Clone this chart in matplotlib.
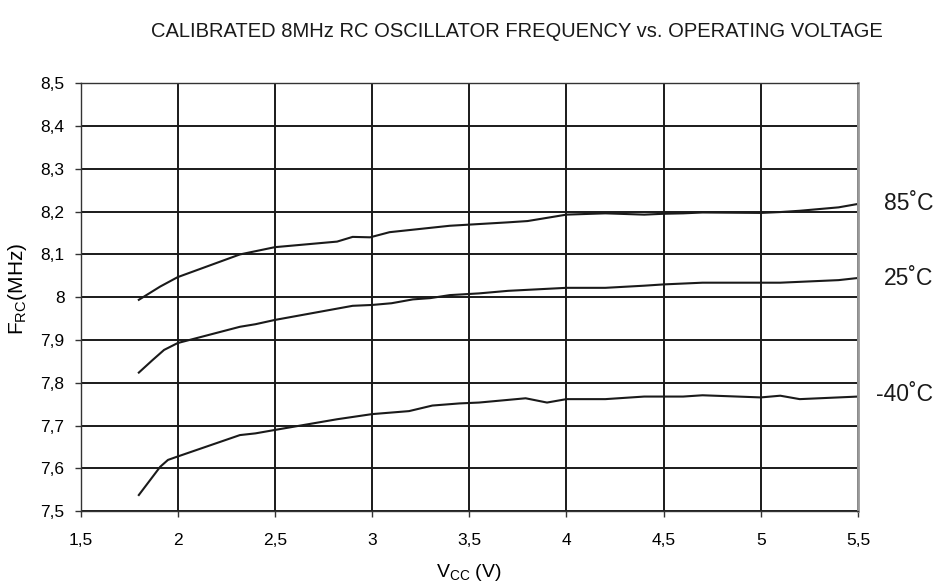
import matplotlib
matplotlib.use("Agg")
import matplotlib.pyplot as plt
from matplotlib.transforms import blended_transform_factory

plt.rcParams['font.family'] = ['Liberation Sans', 'DejaVu Sans']

v85 = [1.80, 1.91, 2.00, 2.32, 2.50, 2.82, 2.90, 2.99, 3.09, 3.40, 3.55, 3.70, 3.80, 3.88, 4.00, 4.20, 4.40, 4.50, 4.60, 4.70, 5.00, 5.10, 5.20, 5.40, 5.50]
f85 = [7.994, 8.025, 8.047, 8.100, 8.117, 8.130, 8.141, 8.140, 8.152, 8.167, 8.171, 8.175, 8.178, 8.184, 8.193, 8.196, 8.193, 8.195, 8.196, 8.198, 8.197, 8.199, 8.202, 8.210, 8.218]

v25 = [1.80, 1.87, 1.93, 2.00, 2.32, 2.40, 2.50, 2.90, 3.00, 3.10, 3.21, 3.30, 3.40, 3.55, 3.70, 4.00, 4.20, 4.40, 4.50, 4.70, 5.00, 5.10, 5.20, 5.40, 5.50]
f25 = [7.824, 7.853, 7.877, 7.893, 7.931, 7.937, 7.947, 7.980, 7.982, 7.986, 7.995, 7.998, 8.005, 8.009, 8.015, 8.022, 8.022, 8.027, 8.030, 8.034, 8.034, 8.034, 8.036, 8.040, 8.045]

vm40 = [1.80, 1.91, 1.95, 2.00, 2.32, 2.40, 2.50, 2.82, 3.00, 3.19, 3.31, 3.45, 3.55, 3.79, 3.90, 4.00, 4.20, 4.40, 4.50, 4.60, 4.70, 5.00, 5.10, 5.20, 5.40, 5.50]
fm40 = [7.538, 7.604, 7.620, 7.628, 7.678, 7.682, 7.690, 7.715, 7.727, 7.734, 7.747, 7.752, 7.754, 7.764, 7.754, 7.762, 7.762, 7.768, 7.768, 7.768, 7.771, 7.766, 7.770, 7.762, 7.766, 7.768]

series_labels = ["85˚C", "25˚C", "-40˚C"]
label_values = [8.22, 8.044, 7.772]
xticks = [1.5, 2, 2.5, 3, 3.5, 4, 4.5, 5, 5.5]
xticklabels = ["1,5", "2", "2,5", "3", "3,5", "4", "4,5", "5", "5,5"]
yticks = [7.5, 7.6, 7.7, 7.8, 7.9, 8.0, 8.1, 8.2, 8.3, 8.4, 8.5]
yticklabels = ["7,5", "7,6", "7,7", "7,8", "7,9", "8", "8,1", "8,2", "8,3", "8,4", "8,5"]

fig = plt.figure(figsize=(9.46, 5.86), dpi=100)
ax = fig.add_axes([0.0851, 0.1275, 0.8219, 0.7305])

ax.set_xlim(1.5, 5.5)
ax.set_ylim(7.5, 8.5)
ax.set_xticks(xticks)
ax.set_xticklabels(xticklabels, fontsize=12.5)
ax.set_yticks(yticks)
ax.set_yticklabels(yticklabels, fontsize=12.5)
ax.grid(True, color='#1a1a1a', linewidth=1.4)
ax.set_axisbelow(True)
ax.tick_params(direction='out', length=4.5, width=1, color='#333333')
ax.tick_params(axis='x', pad=11)
ax.tick_params(axis='y', pad=7)

for s in ['left', 'bottom', 'top']:
    ax.spines[s].set_color('#333333')
    ax.spines[s].set_linewidth(1.0)
ax.spines['right'].set_color('#999999')
ax.spines['right'].set_linewidth(2.0)

for v, f in [(v85, f85), (v25, f25), (vm40, fm40)]:
    ax.plot(v, f, color='#1a1a1a', linewidth=1.5, solid_joinstyle='round')

lab_tr = blended_transform_factory(fig.transFigure, ax.transData)
for lab, yv in zip(series_labels, label_values):
    ax.text(933 / 946, yv, lab, transform=lab_tr,
            fontsize=16.5, ha='right', va='center', color='#1a1a1a', clip_on=False)

ax.set_xlabel("V$_{\\mathregular{CC}}$ (V)", fontsize=14, labelpad=10)
ax.set_ylabel("F$_{\\mathregular{RC}}$(MHz)", fontsize=15)
ax.yaxis.set_label_coords(-0.066, 0.52)

fig.text(517 / 946, 0.947, "CALIBRATED 8MHz RC OSCILLATOR FREQUENCY vs. OPERATING VOLTAGE",
         ha='center', va='center', fontsize=14.5, color='#1a1a1a')

fig.savefig("out.png", dpi=100)
